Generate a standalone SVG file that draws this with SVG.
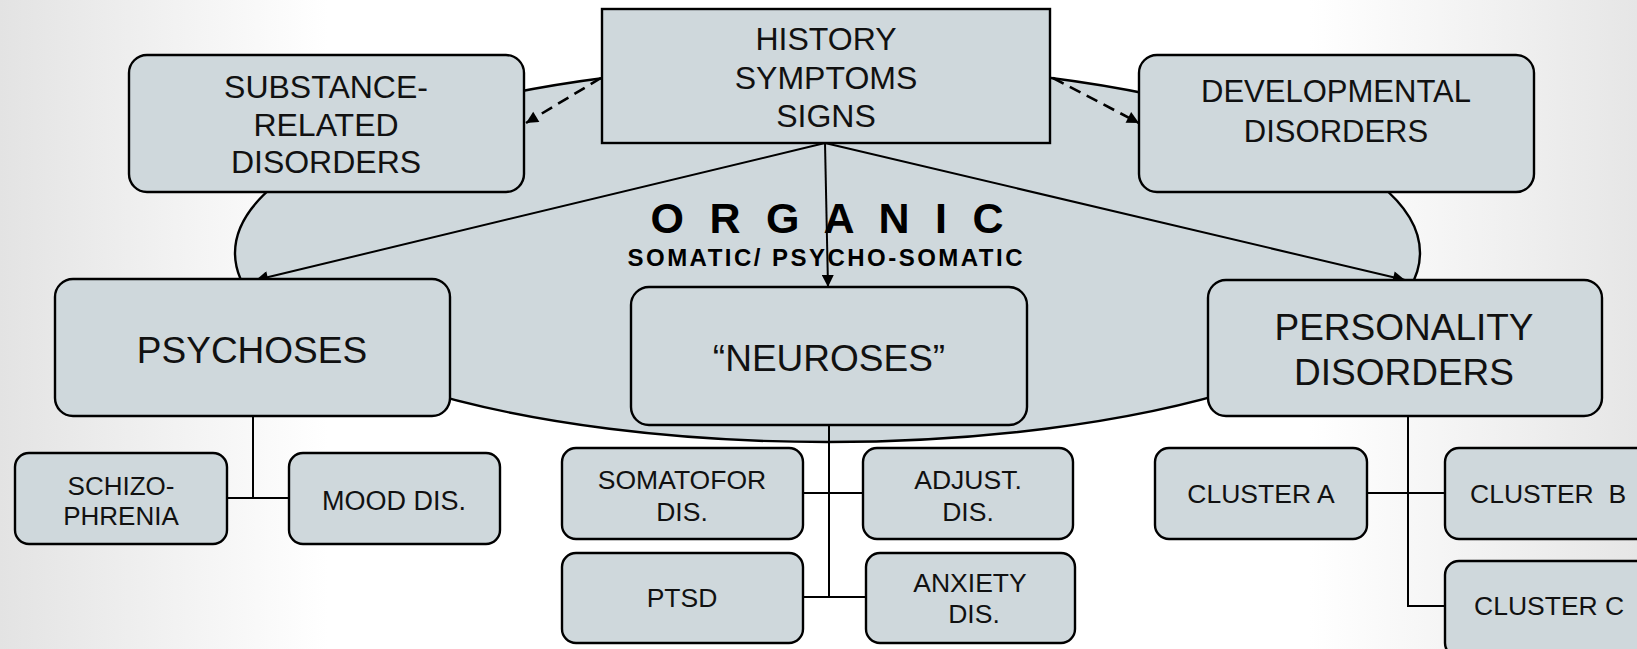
<svg xmlns="http://www.w3.org/2000/svg" width="1637" height="649" viewBox="0 0 1637 649">
<defs>
<linearGradient id="bg" x1="0" y1="0" x2="1" y2="0">
<stop offset="0" stop-color="#e3e3e3"/>
<stop offset="0.2" stop-color="#ffffff"/>
<stop offset="0.8" stop-color="#ffffff"/>
<stop offset="1" stop-color="#e6e6e6"/>
</linearGradient>
<marker id="ah" viewBox="0 0 12 12" refX="12" refY="6" markerWidth="13" markerHeight="12" orient="auto" markerUnits="userSpaceOnUse">
<path d="M0,0 L12,6 L0,12 z" fill="#000"/>
</marker>
</defs>
<style>
.box{fill:#cfd8dc;stroke:#000;stroke-width:2.4}
.t{font-family:"Liberation Sans",Arial,sans-serif;fill:#111;text-anchor:middle}
.ts{font-family:"Liberation Sans",Arial,sans-serif;fill:#111;text-anchor:start}
.b{font-family:"Liberation Sans",Arial,sans-serif;font-weight:bold;fill:#000;text-anchor:middle}
.ln{fill:none;stroke:#000;stroke-width:2}
.dash{fill:none;stroke:#000;stroke-width:2.6;stroke-dasharray:12 7}
</style>
<rect x="0" y="0" width="1637" height="649" fill="url(#bg)"/>
<g id="organic">
<ellipse cx="827.5" cy="253" rx="592.5" ry="189" class="box"/>
<text class="b" x="827" y="233" font-size="43" textLength="353" lengthAdjust="spacing">O R G A N I C</text>
<text class="b" x="825" y="266" font-size="24" textLength="395" lengthAdjust="spacing">SOMATIC/ PSYCHO-SOMATIC</text>
</g>
<g id="connectors">
<line class="ln" x1="825" y1="143" x2="256" y2="280" marker-end="url(#ah)"/>
<line class="ln" x1="825" y1="143" x2="828" y2="287" marker-end="url(#ah)"/>
<line class="ln" x1="825" y1="143" x2="1405" y2="280" marker-end="url(#ah)"/>
<line class="dash" x1="601" y1="78" x2="526" y2="123" marker-end="url(#ah)"/>
<line class="dash" x1="1053" y1="78" x2="1139" y2="123" marker-end="url(#ah)"/>
<polyline class="ln" points="253,416 253,498"/>
<line class="ln" x1="227" y1="498" x2="289" y2="498"/>
<polyline class="ln" points="829,425 829,597"/>
<line class="ln" x1="803" y1="493" x2="863" y2="493"/>
<line class="ln" x1="803" y1="597" x2="866" y2="597"/>
<polyline class="ln" points="1408,416 1408,606 1445,606"/>
<line class="ln" x1="1367" y1="493" x2="1445" y2="493"/>
</g>
<g id="history">
<rect x="602" y="9" width="448" height="134" class="box" stroke-width="2.8"/>
<text class="t" x="826" y="50" font-size="32">HISTORY</text>
<text class="t" x="826" y="89" font-size="32">SYMPTOMS</text>
<text class="t" x="826" y="127" font-size="32">SIGNS</text>
</g>
<g id="substance">
<rect x="129" y="55" width="395" height="137" rx="18" class="box"/>
<text class="t" x="326" y="98" font-size="32">SUBSTANCE-</text>
<text class="t" x="326" y="136" font-size="32">RELATED</text>
<text class="t" x="326" y="173" font-size="32">DISORDERS</text>
</g>
<g id="developmental">
<rect x="1139" y="55" width="395" height="137" rx="18" class="box"/>
<text class="t" x="1336" y="102" font-size="31">DEVELOPMENTAL</text>
<text class="t" x="1336" y="142" font-size="31">DISORDERS</text>
</g>
<g id="psychoses">
<rect x="55" y="279" width="395" height="137" rx="18" class="box"/>
<text class="t" x="252" y="363" font-size="37">PSYCHOSES</text>
</g>
<g id="neuroses">
<rect x="631" y="287" width="396" height="138" rx="18" class="box"/>
<text class="t" x="829" y="371" font-size="37">“NEUROSES”</text>
</g>
<g id="personality">
<rect x="1208" y="280" width="394" height="136" rx="18" class="box"/>
<text class="t" x="1404" y="340" font-size="37">PERSONALITY</text>
<text class="t" x="1404" y="385" font-size="37">DISORDERS</text>
</g>
<g id="schizophrenia">
<rect x="15" y="453" width="212" height="91" rx="14" class="box"/>
<text class="t" x="121" y="495" font-size="26">SCHIZO-</text>
<text class="t" x="121" y="525" font-size="26">PHRENIA</text>
</g>
<g id="mood">
<rect x="289" y="453" width="211" height="91" rx="14" class="box"/>
<text class="t" x="394" y="510" font-size="27">MOOD DIS.</text>
</g>
<g id="somatoform">
<rect x="562" y="448" width="241" height="91" rx="14" class="box"/>
<text class="t" x="682" y="489" font-size="26.5">SOMATOFOR</text>
<text class="t" x="682" y="521" font-size="26.5">DIS.</text>
</g>
<g id="adjust">
<rect x="863" y="448" width="210" height="91" rx="14" class="box"/>
<text class="t" x="968" y="489" font-size="26.5">ADJUST.</text>
<text class="t" x="968" y="521" font-size="26.5">DIS.</text>
</g>
<g id="ptsd">
<rect x="562" y="553" width="241" height="90" rx="14" class="box"/>
<text class="t" x="682" y="607" font-size="26.5">PTSD</text>
</g>
<g id="anxiety">
<rect x="866" y="553" width="209" height="90" rx="14" class="box"/>
<text class="t" x="970" y="592" font-size="26.5">ANXIETY</text>
<text class="t" x="974" y="623" font-size="26.5">DIS.</text>
</g>
<g id="clusterA">
<rect x="1155" y="448" width="212" height="91" rx="14" class="box"/>
<text class="t" x="1261" y="503" font-size="26.5">CLUSTER A</text>
</g>
<g id="clusterB">
<rect x="1445" y="448" width="220" height="91" rx="14" class="box"/>
<text class="ts" x="1470" y="503" font-size="26.5" xml:space="preserve">CLUSTER  B</text>
</g>
<g id="clusterC">
<rect x="1445" y="561" width="220" height="96" rx="14" class="box"/>
<text class="ts" x="1474" y="615" font-size="26.5">CLUSTER C</text>
</g>
</svg>
